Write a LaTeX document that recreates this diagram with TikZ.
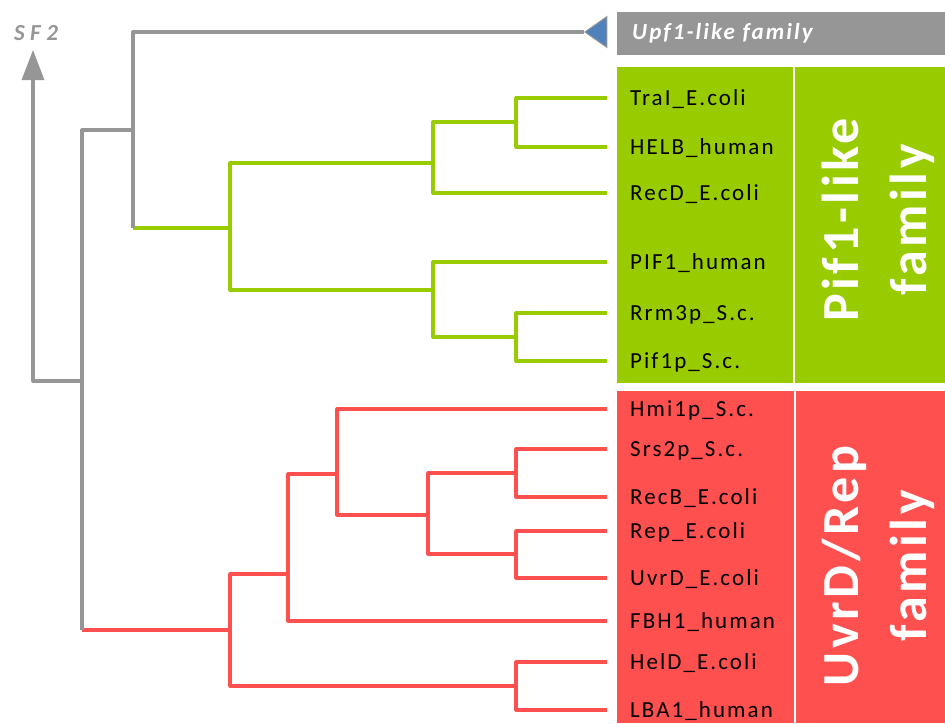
\documentclass[tikz,border=0pt]{standalone}
\usepackage{fontspec}
\setmainfont{Carlito}
\newfontfamily\leaffont[LetterSpace=9]{Carlito}
\newfontfamily\sftwofont[LetterSpace=24]{Carlito}
\newfontfamily\upffont[LetterSpace=9]{Carlito}
\newfontfamily\famfont[LetterSpace=7]{Carlito}
\usetikzlibrary{arrows.meta,shapes.geometric}
\definecolor{lgreen}{RGB}{153,204,0}
\definecolor{lred}{RGB}{255,80,80}
\definecolor{lgrey}{RGB}{150,150,150}
\definecolor{lblue}{RGB}{79,129,189}
\begin{document}
\begin{tikzpicture}[x=1pt,y=-1pt,
  branch/.style={line width=3.2pt,line join=round},
  gbranch/.style={branch,draw=lgreen},
  rbranch/.style={branch,draw=lred},
  kbranch/.style={branch,draw=lgrey},
  leaf/.style={anchor=west,inner xsep=23pt,inner ysep=0pt,text height=14.5pt,text depth=0pt,
    font=\leaffont\fontsize{23}{23}\selectfont,text=black},
  famlabel/.style={rotate=90,align=center,text=white,inner sep=0pt,
    font=\famfont\bfseries\fontsize{52}{68}\selectfont}]
\useasboundingbox (0,0) rectangle (945,723);
% boxes
\fill[lgreen] (617,67) rectangle (793,383);
\fill[lgreen] (795,67) rectangle (945,383);
\fill[lred] (617,391) rectangle (794,723);
\fill[lred] (796,391) rectangle (945,723);
\node[fill=lgrey,anchor=north west,minimum height=43pt,text width=298pt,inner xsep=15pt,
  align=left,text=white,font=\upffont\bfseries\itshape\fontsize{23}{23}\selectfont] (upf) at (617,12) {Upf1-like family};
\node[famlabel] (piflabel) at (878,220) {Pif1-like\\family};
\node[famlabel] (uvrlabel) at (878,566) {UvrD/Rep\\family};
% SF2
\node[text=lgrey,font=\sftwofont\bfseries\itshape\fontsize{23}{23}\selectfont] (sf2) at (36,33) {SF2};
\coordinate (sf2tip) at (33,50);
% leaves
\node[leaf] (tral) at (607,98) {TraI\_E.coli};
\node[leaf] (helb) at (607,147) {HELB\_human};
\node[leaf] (recd) at (607,193) {RecD\_E.coli};
\node[leaf] (pif1h) at (607,262) {PIF1\_human};
\node[leaf] (rrm3) at (607,313) {Rrm3p\_S.c.};
\node[leaf] (pif1p) at (607,361) {Pif1p\_S.c.};
\node[leaf] (hmi1) at (607,409) {Hmi1p\_S.c.};
\node[leaf] (srs2) at (607,449) {Srs2p\_S.c.};
\node[leaf] (recb) at (607,497) {RecB\_E.coli};
\node[leaf] (rep) at (607,531) {Rep\_E.coli};
\node[leaf] (uvrd) at (607,578) {UvrD\_E.coli};
\node[leaf] (fbh1) at (607,621) {FBH1\_human};
\node[leaf] (held) at (607,662) {HelD\_E.coli};
\node[leaf] (lba1) at (607,710) {LBA1\_human};
% internal nodes
\coordinate (g1) at (516,122);
\coordinate (g2) at (433,163);
\coordinate (g4) at (516,337);
\coordinate (g5) at (433,290);
\coordinate (g3) at (230,228);
\coordinate (ra) at (516,473);
\coordinate (rb) at (516,554);
\coordinate (rc) at (428,515);
\coordinate (rd) at (337,474);
\coordinate (re) at (288,574);
\coordinate (rf) at (516,686);
\coordinate (rg) at (230,630);
\coordinate (r1) at (133,130);
\coordinate (pifbase) at (133,228);
\coordinate (root) at (82,381);
\coordinate (rootbottom) at (82,630);
% green tree
\draw[gbranch] (g1) |- (tral.west);
\draw[gbranch] (g1) |- (helb.west);
\draw[gbranch] (g2) |- (g1);
\draw[gbranch] (g2) |- (recd.west);
\draw[gbranch] (g4) |- (rrm3.west);
\draw[gbranch] (g4) |- (pif1p.west);
\draw[gbranch] (g5) |- (pif1h.west);
\draw[gbranch] (g5) |- (g4);
\draw[gbranch] (g3) |- (g2);
\draw[gbranch] (g3) |- (g5);
\draw[gbranch] (pifbase) -- (g3);
% red tree
\draw[rbranch] (ra) |- (srs2.west);
\draw[rbranch] (ra) |- (recb.west);
\draw[rbranch] (rb) |- (rep.west);
\draw[rbranch] (rb) |- (uvrd.west);
\draw[rbranch] (rc) |- (ra);
\draw[rbranch] (rc) |- (rb);
\draw[rbranch] (rd) |- (hmi1.west);
\draw[rbranch] (rd) |- (rc);
\draw[rbranch] (re) |- (rd);
\draw[rbranch] (re) |- (fbh1.west);
\draw[rbranch] (rf) |- (held.west);
\draw[rbranch] (rf) |- (lba1.west);
\draw[rbranch] (rg) |- (re);
\draw[rbranch] (rg) |- (rf);
\draw[rbranch] (rootbottom) -- (rg);
% grey tree
\node[isosceles triangle,shape border rotate=180,isosceles triangle apex angle=70,
  fill=lblue,draw=lgrey,line width=1pt,minimum height=22pt,inner sep=0pt,anchor=apex] (upfarrow) at (584,32) {};
\draw[kbranch] (pifbase) |- (upfarrow.apex);
\draw[kbranch] (r1) -| (rootbottom);
\draw[kbranch,-{Triangle[width=22pt,length=30pt]}] (root) -| (sf2tip);
\end{tikzpicture}
\end{document}
